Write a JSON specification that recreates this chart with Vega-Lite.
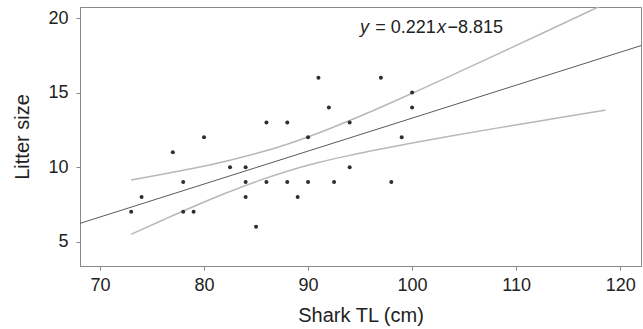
{
  "$schema": "https://vega.github.io/schema/vega-lite/v6.json",
  "width": 561,
  "height": 259,
  "autosize": {"type": "none"},
  "padding": {"left": 80, "top": 7, "right": 2, "bottom": 63},
  "background": "white",
  "config": {
    "font": "Liberation Sans",
    "view": {"stroke": "#888888", "strokeWidth": 1},
    "axis": {
      "grid": false,
      "domainColor": "#888888",
      "tickColor": "#888888",
      "tickSize": 4,
      "labelFontSize": 18,
      "titleFontSize": 20,
      "labelColor": "#222222",
      "titleColor": "#222222",
      "titleFontWeight": "normal",
      "labelFont": "Liberation Sans",
      "titleFont": "Liberation Sans"
    }
  },
  "datasets": {
    "points": [
      {"TL": 73, "litter": 7}, {"TL": 74, "litter": 8}, {"TL": 77, "litter": 11},
      {"TL": 78, "litter": 9}, {"TL": 78, "litter": 7}, {"TL": 79, "litter": 7},
      {"TL": 80, "litter": 12}, {"TL": 82.5, "litter": 10}, {"TL": 84, "litter": 10},
      {"TL": 84, "litter": 9}, {"TL": 84, "litter": 8}, {"TL": 85, "litter": 6},
      {"TL": 86, "litter": 13}, {"TL": 86, "litter": 9}, {"TL": 88, "litter": 13},
      {"TL": 88, "litter": 9}, {"TL": 89, "litter": 8}, {"TL": 90, "litter": 12},
      {"TL": 90, "litter": 9}, {"TL": 91, "litter": 16}, {"TL": 92, "litter": 14},
      {"TL": 92.5, "litter": 9}, {"TL": 94, "litter": 13}, {"TL": 94, "litter": 10},
      {"TL": 97, "litter": 16}, {"TL": 98, "litter": 9}, {"TL": 99, "litter": 12},
      {"TL": 100, "litter": 15}, {"TL": 100, "litter": 14}
    ],
    "fit": [
      {"TL": 68.08, "fit": 6.23}, {"TL": 122, "fit": 18.15}
    ],
    "band": [
      {"TL": 73, "lower": 5.50, "upper": 9.14},
      {"TL": 76, "lower": 6.44, "upper": 9.52},
      {"TL": 79, "lower": 7.36, "upper": 9.93},
      {"TL": 82, "lower": 8.23, "upper": 10.38},
      {"TL": 85, "lower": 9.03, "upper": 10.91},
      {"TL": 88, "lower": 9.73, "upper": 11.54},
      {"TL": 91, "lower": 10.31, "upper": 12.29},
      {"TL": 94, "lower": 10.79, "upper": 13.13},
      {"TL": 97, "lower": 11.22, "upper": 14.02},
      {"TL": 100, "lower": 11.62, "upper": 14.95},
      {"TL": 104, "lower": 12.12, "upper": 16.22},
      {"TL": 108, "lower": 12.60, "upper": 17.51},
      {"TL": 112, "lower": 13.06, "upper": 18.81},
      {"TL": 116, "lower": 13.53, "upper": 20.12},
      {"TL": 118.6, "lower": 13.82, "upper": 20.97}
    ]
  },
  "layer": [
    {
      "data": {"name": "band"},
      "mark": {"type": "line", "color": "#b8b8b8", "strokeWidth": 1.5, "interpolate": "monotone", "clip": true},
      "encoding": {
        "x": {"field": "TL", "type": "quantitative", "scale": {"domain": [68.08, 122], "nice": false, "zero": false},
              "axis": {"values": [70, 80, 90, 100, 110, 120], "title": "Shark TL (cm)", "labelPadding": 6, "titlePadding": 11}},
        "y": {"field": "upper", "type": "quantitative", "scale": {"domain": [3.37, 20.74], "nice": false, "zero": false},
              "axis": {"values": [5, 10, 15, 20], "title": "Litter size", "labelPadding": 8, "titlePadding": 15}}
      }
    },
    {
      "data": {"name": "band"},
      "mark": {"type": "line", "color": "#b8b8b8", "strokeWidth": 1.5, "interpolate": "monotone", "clip": true},
      "encoding": {
        "x": {"field": "TL", "type": "quantitative"},
        "y": {"field": "lower", "type": "quantitative"}
      }
    },
    {
      "data": {"name": "fit"},
      "mark": {"type": "line", "color": "#5a5a5a", "strokeWidth": 1, "clip": true},
      "encoding": {
        "x": {"field": "TL", "type": "quantitative"},
        "y": {"field": "fit", "type": "quantitative"}
      }
    },
    {
      "data": {"name": "points"},
      "mark": {"type": "circle", "color": "#2e2e2e", "size": 16, "opacity": 1},
      "encoding": {
        "x": {"field": "TL", "type": "quantitative"},
        "y": {"field": "litter", "type": "quantitative"}
      }
    },
    {
      "data": {"values": [{}]},
      "mark": {"type": "text", "text": "y", "fontStyle": "italic", "fontSize": 18, "align": "left", "baseline": "middle", "color": "#222222"},
      "encoding": {"x": {"datum": 95.0, "type": "quantitative"}, "y": {"datum": 19.3, "type": "quantitative"}}
    },
    {
      "data": {"values": [{}]},
      "mark": {"type": "text", "text": "= 0.221", "fontSize": 18, "align": "left", "baseline": "middle", "color": "#222222"},
      "encoding": {"x": {"datum": 96.45, "type": "quantitative"}, "y": {"datum": 19.3, "type": "quantitative"}}
    },
    {
      "data": {"values": [{}]},
      "mark": {"type": "text", "text": "x", "fontStyle": "italic", "fontSize": 18, "align": "left", "baseline": "middle", "color": "#222222"},
      "encoding": {"x": {"datum": 102.4, "type": "quantitative"}, "y": {"datum": 19.3, "type": "quantitative"}}
    },
    {
      "data": {"values": [{}]},
      "mark": {"type": "text", "text": "−8.815", "fontSize": 18, "align": "left", "baseline": "middle", "color": "#222222"},
      "encoding": {"x": {"datum": 103.4, "type": "quantitative"}, "y": {"datum": 19.3, "type": "quantitative"}}
    }
  ]
}
